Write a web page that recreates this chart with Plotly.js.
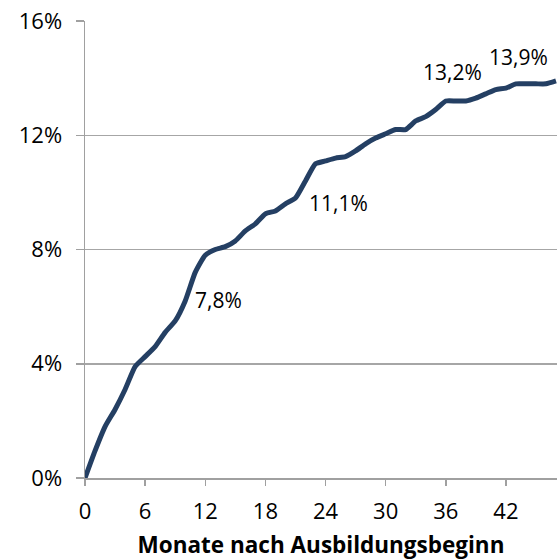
<!DOCTYPE html>
<html>
<head>
<meta charset="utf-8">
<script src="https://cdn.plot.ly/plotly-3.0.1.min.js"></script>
<style>html,body{margin:0;padding:0;background:#fff;}#chart{width:557px;height:560px;}</style>
</head>
<body>
<div id="chart"></div>
<script>
var months = [];
for (var i = 0; i <= 47; i++) months.push(i);
var shares = [0, 0.95, 1.8, 2.4, 3.1, 3.9, 4.25, 4.6, 5.1, 5.5, 6.2, 7.2, 7.8, 8.0, 8.1, 8.3,
  8.65, 8.9, 9.25, 9.35, 9.6, 9.8, 10.4, 11.0, 11.1, 11.2, 11.25, 11.45, 11.7, 11.9, 12.05, 12.2,
  12.2, 12.5, 12.65, 12.9, 13.2, 13.2, 13.2, 13.3, 13.45, 13.6, 13.65, 13.8, 13.8, 13.8, 13.8, 13.9];
var xTicks = [0, 6, 12, 18, 24, 30, 36, 42];
var yTicks = [0, 4, 8, 12, 16];
var yTickLabels = ['0%', '4%', '8%', '12%', '16%'];
var labelIdx = [12, 24, 36, 47];
var labelShift = [[13, -45], [13, -42], [7, 29], [-38, 24]];

function fmt(v) { return v.toFixed(1).replace('.', ',') + '%'; }

var font = 'Open Sans, Noto Sans, sans-serif';
var annotations = labelIdx.map(function (k, j) {
  return {
    x: months[k], y: shares[k], xref: 'x', yref: 'y', text: fmt(shares[k]),
    showarrow: false, xshift: labelShift[j][0], yshift: labelShift[j][1],
    font: {family: font, size: 21, color: '#000'}
  };
});

Plotly.newPlot('chart', [{
  x: months, y: shares, type: 'scatter', mode: 'lines',
  line: {color: '#243f63', width: 5, shape: 'spline', smoothing: 0.5},
  hoverinfo: 'none'
}], {
  width: 557, height: 560,
  margin: {l: 85, r: 0, t: 21, b: 82},
  paper_bgcolor: '#fff', plot_bgcolor: '#fff',
  showlegend: false,
  font: {family: font, size: 22, color: '#000'},
  xaxis: {
    range: [0, 47.1], tickvals: xTicks, ticktext: xTicks.map(String),
    showgrid: false, zeroline: false,
    showline: true, linecolor: '#a0a0a0', linewidth: 1.5,
    ticks: 'outside', ticklen: 6, tickcolor: '#a0a0a0', tickwidth: 1.5,
    ticklabelstandoff: 7,
    tickfont: {family: font, size: 22, color: '#000'},
    title: {text: '<b>Monate nach Ausbildungsbeginn</b>', font: {family: font, size: 22.5, color: '#000'}, standoff: 16},
    fixedrange: true
  },
  yaxis: {
    range: [0, 16], tickvals: yTicks, ticktext: yTickLabels,
    showgrid: true, gridcolor: '#a6a6a6', gridwidth: 1.5,
    zeroline: false, showline: true, linecolor: '#a0a0a0', linewidth: 1.5,
    ticks: 'outside', ticklen: 8, tickcolor: '#a0a0a0', tickwidth: 1.5,
    ticklabelstandoff: 9,
    tickfont: {family: font, size: 22, color: '#000'},
    fixedrange: true
  },
  annotations: annotations
}, {displayModeBar: false, staticPlot: true});
</script>
</body>
</html>
